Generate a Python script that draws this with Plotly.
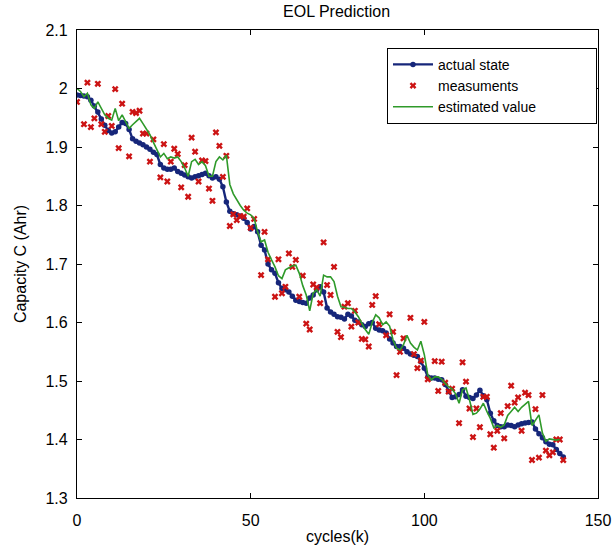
import plotly.graph_objects as go

# ---- data ----
actual_k = list(range(0, 141))
actual_v = [
    1.989, 1.988, 1.987, 1.986, 1.980, 1.970, 1.960, 1.948, 1.937, 1.928,
    1.924, 1.926, 1.934, 1.942, 1.940, 1.930, 1.914, 1.910, 1.907, 1.904,
    1.900, 1.896, 1.891, 1.887, 1.870, 1.864, 1.862, 1.862, 1.864, 1.858,
    1.855, 1.852, 1.849, 1.847, 1.849, 1.851, 1.853, 1.855, 1.851, 1.847,
    1.849, 1.845, 1.832, 1.806, 1.790, 1.786, 1.784, 1.782, 1.778, 1.771,
    1.760, 1.764, 1.755, 1.732, 1.724, 1.700, 1.690, 1.684, 1.668, 1.658,
    1.656, 1.652, 1.645, 1.638, 1.636, 1.634, 1.633, 1.642, 1.647, 1.656,
    1.661, 1.652, 1.625, 1.618, 1.614, 1.610, 1.609, 1.606, 1.614, 1.611,
    1.604, 1.601, 1.596, 1.593, 1.598, 1.600, 1.590, 1.587, 1.586, 1.582,
    1.572, 1.565, 1.559, 1.559, 1.556, 1.550, 1.546, 1.544, 1.542, 1.533,
    1.522, 1.507, 1.505, 1.505, 1.503, 1.502, 1.494, 1.482, 1.472, 1.473,
    1.477, 1.485, 1.474, 1.472, 1.470, 1.476, 1.484, 1.475, 1.468, 1.445,
    1.432, 1.424, 1.422, 1.422, 1.425, 1.424, 1.422, 1.425, 1.427, 1.428,
    1.429, 1.430, 1.418, 1.410, 1.403, 1.396, 1.392, 1.391, 1.383, 1.376,
    1.370,
]

meas_k = [
    0, 2, 3, 4, 5, 6, 7, 8, 9, 10, 11, 12, 13, 15, 16, 17, 18, 19, 20, 21,
    22, 24, 25, 26, 27, 28, 29, 30, 31, 32, 33, 34, 35, 36, 37, 38, 39, 40, 41, 42,
    43, 44, 45, 46, 47, 48, 49, 50, 51, 53, 54, 55, 57, 58, 59, 60, 61, 62, 63, 64,
    65, 66, 67, 68, 69, 70, 71, 72, 73, 74, 75, 76, 77, 78, 79, 80, 81, 82, 83, 84,
    85, 86, 87, 89, 90, 91, 92, 93, 94, 96, 97, 98, 99, 100, 101, 103, 104, 105, 106, 107,
    108, 110, 111, 112, 113, 114, 115, 116, 117, 118, 119, 120, 121, 122, 123, 124, 125, 126, 127, 128,
    129, 130, 131, 132, 133, 134, 135, 136, 137, 138, 139, 140,
]
meas_v = [
    1.977, 1.939, 2.010, 1.934, 1.949, 2.008, 1.939, 1.926, 1.953, 1.936, 1.999, 1.898, 1.974, 1.884, 1.960, 1.958, 1.962, 1.923, 1.923, 1.875,
    1.913, 1.848, 1.905, 1.841, 1.875, 1.897, 1.888, 1.831, 1.869, 1.815, 1.916, 1.892, 1.841, 1.877, 1.876, 1.829, 1.808, 1.925, 1.902, 1.849,
    1.885, 1.765, 1.785, 1.775, 1.782, 1.781, 1.795, 1.762, 1.777, 1.681, 1.755, 1.708, 1.644, 1.708, 1.650, 1.661, 1.718, 1.695, 1.707, 1.644,
    1.680, 1.598, 1.588, 1.665, 1.660, 1.633, 1.737, 1.664, 1.647, 1.695, 1.584, 1.575, 1.627, 1.633, 1.593, 1.620, 1.600, 1.572, 1.571, 1.559,
    1.630, 1.645, 1.597, 1.578, 1.614, 1.584, 1.510, 1.550, 1.573, 1.608, 1.546, 1.522, 1.535, 1.601, 1.503, 1.534, 1.483, 1.533, 1.497, 1.482,
    1.487, 1.428, 1.532, 1.499, 1.453, 1.404, 1.453, 1.421, 1.473, 1.473, 1.409, 1.386, 1.415, 1.445, 1.402, 1.457, 1.492, 1.463, 1.472, 1.415,
    1.480, 1.476, 1.365, 1.452, 1.369, 1.476, 1.381, 1.373, 1.378, 1.400, 1.400, 1.365,
]

est_k = list(range(0, 140))
est_v = [
    2.000, 1.995, 1.986, 1.992, 1.972, 1.966, 1.977, 1.965, 1.955, 1.949,
    1.946, 1.966, 1.945, 1.955, 1.943, 1.932, 1.938, 1.944, 1.949, 1.940,
    1.930, 1.921, 1.908, 1.895, 1.883, 1.889, 1.880, 1.883, 1.881, 1.883,
    1.875, 1.864, 1.850, 1.875, 1.879, 1.870, 1.875, 1.868, 1.850, 1.850,
    1.875, 1.883, 1.878, 1.886, 1.836, 1.820, 1.809, 1.800, 1.792, 1.787,
    1.784, 1.778, 1.755, 1.738, 1.741, 1.720, 1.707, 1.695, 1.680, 1.675,
    1.690, 1.694, 1.697, 1.698, 1.684, 1.663, 1.647, 1.620, 1.650, 1.656,
    1.645, 1.681, 1.678, 1.678, 1.670, 1.645, 1.627, 1.626, 1.624, 1.624,
    1.618, 1.610, 1.598, 1.588, 1.580, 1.600, 1.613, 1.608, 1.596, 1.601,
    1.594, 1.570, 1.556, 1.553, 1.562, 1.578, 1.565, 1.558, 1.553, 1.568,
    1.545, 1.510, 1.502, 1.507, 1.507, 1.503, 1.496, 1.490, 1.486, 1.478,
    1.462, 1.485, 1.488, 1.468, 1.443, 1.445, 1.452, 1.462, 1.448, 1.436,
    1.420, 1.424, 1.421, 1.425, 1.441, 1.448, 1.455, 1.448, 1.455, 1.460,
    1.465, 1.424, 1.432, 1.442, 1.411, 1.397, 1.401, 1.400, 1.399, 1.400,
]

series_names = ["actual state", "measuments", "estimated value"]
x_ticks = [0, 50, 100, 150]
y_ticks = [1.3, 1.4, 1.5, 1.6, 1.7, 1.8, 1.9, 2.0, 2.1]
y_tick_text = ["1.3", "1.4", "1.5", "1.6", "1.7", "1.8", "1.9", "2", "2.1"]

FONT = "Liberation Sans, Arial, Helvetica, sans-serif"
PAD = "\u00a0" * 14  # widens the legend box to match the reference

fig = go.Figure()
fig.add_trace(go.Scatter(
    x=actual_k, y=actual_v, mode="lines+markers", name=series_names[0],
    line=dict(color="#16267a", width=2.4),
    marker=dict(color="#16267a", size=5.5, symbol="circle"),
))
fig.add_trace(go.Scatter(
    x=meas_k, y=meas_v, mode="markers", name=series_names[1],
    marker=dict(color="#cc1414", size=6, symbol="x", line=dict(width=0)),
))
fig.add_trace(go.Scatter(
    x=est_k, y=est_v, mode="lines", name=series_names[2] + PAD,
    line=dict(color="#2f9a2a", width=1.6),
))

axis_common = dict(
    showgrid=False, zeroline=False, showline=True, linecolor="black", linewidth=1.2,
    mirror="ticks", ticks="inside", ticklen=5, tickcolor="black", tickwidth=1,
    tickfont=dict(family=FONT, size=16, color="black"), automargin=False,
)

fig.update_xaxes(range=[0, 150], tickvals=x_ticks, ticklabelstandoff=8,
                 title=dict(text="cycles(k)", font=dict(family=FONT, size=16, color="black"), standoff=2),
                 **axis_common)
fig.update_yaxes(range=[1.3, 2.1], tickvals=y_ticks, ticktext=y_tick_text, ticklabelstandoff=5,
                 title=dict(text="Capacity C (Ahr)", font=dict(family=FONT, size=16, color="black"), standoff=14),
                 **axis_common)

fig.update_layout(
    width=612, height=550, autosize=False,
    margin=dict(l=77, r=14, t=30, b=52),
    paper_bgcolor="white", plot_bgcolor="white",
    title=dict(text="EOL Prediction", x=0.55, xanchor="center", y=0.98, yanchor="middle",
               font=dict(family=FONT, size=16, color="black")),
    legend=dict(x=0.595, y=0.962, xanchor="left", yanchor="top",
                bgcolor="white", bordercolor="black", borderwidth=1,
                font=dict(family=FONT, size=14, color="black"),
                tracegroupgap=0, itemwidth=40),
    showlegend=True,
)

fig.write_html("out.html")
